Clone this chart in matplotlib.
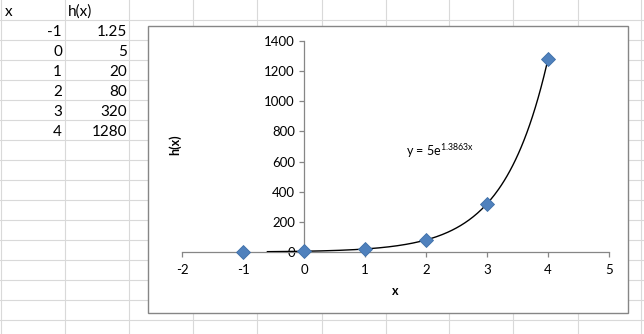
import numpy as np
import matplotlib
matplotlib.use("Agg")
import matplotlib.pyplot as plt
from matplotlib.patches import Rectangle

plt.rcParams['font.family'] = ['Lato', 'DejaVu Sans']
plt.rcParams['axes.unicode_minus'] = False

# data from the sheet
x_vals = [-1, 0, 1, 2, 3, 4]
h_vals = [1.25, 5, 20, 80, 320, 1280]
x_ticks = [-2, -1, 0, 1, 2, 3, 4, 5]
y_ticks = [0, 200, 400, 600, 800, 1000, 1200, 1400]

xs = np.array(x_vals, dtype=float)
hs = np.array(h_vals, dtype=float)

# exponential trendline like excel
b, lna = np.polyfit(xs, np.log(hs), 1)
a = np.exp(lna)

fig = plt.figure(figsize=(6.44, 3.34), dpi=100)

# background sheet, in pixel coords
bg = fig.add_axes([0, 0, 1, 1], zorder=0)
bg.set_xlim(0, 644)
bg.set_ylim(334, 0)
bg.axis('off')

grid_c = '#d9d9d9'
col_lines = [1, 65, 129, 193, 257, 322, 386, 449, 513, 578, 641]
for cx in col_lines:
    bg.plot([cx, cx], [0, 334], color=grid_c, lw=0.8)
for ry in range(20, 334, 20):
    bg.plot([0, 644], [ry, ry], color=grid_c, lw=0.8)

bg.text(5, 12, 'x', fontsize=11, va='center', ha='left')
bg.text(68, 12, 'h(x)', fontsize=11, va='center', ha='left')
for i in range(len(x_vals)):
    yy = 32 + 20 * i
    bg.text(62, yy, str(x_vals[i]), fontsize=11, va='center', ha='right')
    bg.text(127, yy, '%g' % h_vals[i], fontsize=11, va='center', ha='right')

# chart box
bg.add_patch(Rectangle((148, 26), 480, 287, facecolor='white',
                       edgecolor='#868686', lw=1.0, zorder=5))
bg.text(395, 291, 'x', fontsize=9, fontweight='bold', ha='center', va='center', zorder=6)
bg.text(175, 145, 'h(x)', fontsize=9, fontweight='bold', rotation=90,
        ha='center', va='center', zorder=6)
bg.text(406, 151, r'y = %ge$^{\mathregular{%.4fx}}$' % (round(a, 4), b),
        fontsize=9, ha='left', va='center', zorder=6)

# plot area
ax = fig.add_axes([182 / 644, (334 - 252) / 334, (609 - 182) / 644, (252 - 41) / 334], zorder=2)
ax.patch.set_alpha(0)
ax.set_xlim(-2, 5)
ax.set_ylim(0, 1400)
ax.set_xticks(x_ticks)
ax.set_yticks(y_ticks)
ax.spines['top'].set_visible(False)
ax.spines['right'].set_visible(False)
ax.spines['left'].set_position(('data', 0))
for s in ['left', 'bottom']:
    ax.spines[s].set_color('#868686')
    ax.spines[s].set_linewidth(0.9)
ax.tick_params(axis='both', direction='out', length=3.5, width=0.9, color='#868686',
               labelsize=9.5, pad=3)
ax.tick_params(axis='x', pad=5)

xt = np.linspace(-0.6, xs.max(), 200)
ax.plot(xt, a * np.exp(b * xt), color='black', lw=1.0, zorder=3)
ax.plot(xs, hs, linestyle='none', marker='D', markersize=7,
        color='#4f81bd', markeredgecolor='#3e6fa8', markeredgewidth=0.6,
        clip_on=False, zorder=4)

fig.savefig('out.png', dpi=100)
